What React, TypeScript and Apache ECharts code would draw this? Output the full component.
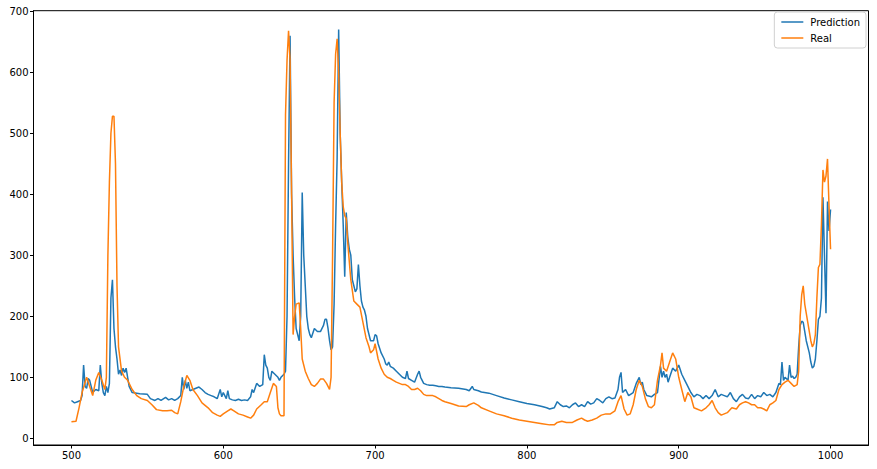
import React, { useEffect, useRef } from "react";
import * as echarts from "echarts";

const xTicks = [500, 600, 700, 800, 900, 1000];
const yTicks = [0, 100, 200, 300, 400, 500, 600, 700];

const predX = [500,502,504,506,507,508,509,510,511,512,514,516,518,519,520,521,522,523,524,525,526,527,528,529,530,531,532,533,534,535,536,537,538,540,545,550,552,555,557,559,562,564,566,568,570,572,573,574,575,576,577,578,580,582,584,586,588,590,592,594,596,598,599,600,602,603,604,606,608,610,612,614,616,618,619,620,622,624,626,627,628,629,630,631,632,634,636,637,638,640,641,642,643,644,645,646,647,648,649,650,651,652,653,654,655,656,657,658,660,662,664,666,667,668,669,670,671,672,673,674,675,676,677,678,679,680,681,682,683,684,685,686,687,688,689,690,691,692,693,694,695,697,699,700,701,702,704,706,707,708,709,710,712,714,716,718,720,721,722,724,726,728,729,730,732,734,736,738,740,742,744,746,750,755,760,762,764,765,768,770,775,780,785,790,795,800,805,810,813,815,818,820,822,824,826,828,830,832,834,836,838,840,842,844,846,848,850,852,854,856,858,860,861,862,863,865,867,870,872,873,874,875,876,877,879,882,884,886,888,889,890,891,892,893,894,896,898,900,902,904,906,908,910,912,914,916,918,920,922,924,926,928,930,932,934,936,938,940,942,944,946,948,950,952,954,956,958,960,962,964,966,967,968,969,970,972,973,974,975,976,977,978,979,980,981,982,984,986,987,988,989,990,991,992,993,994,995,996,997,998,999,1000];
const predY = [62,58,60,62,70,120,85,82,98,95,75,80,78,120,90,75,70,85,75,90,230,260,180,150,130,105,112,103,115,108,115,100,85,75,73,72,65,62,65,62,67,63,65,62,65,70,100,80,95,82,92,78,80,82,84,80,75,72,70,68,65,80,68,75,65,78,65,63,62,64,62,63,62,68,80,75,90,85,88,137,120,115,100,95,110,105,100,95,100,105,110,200,450,660,400,300,230,180,170,160,200,403,300,250,200,180,170,165,180,175,175,185,195,195,180,160,145,150,220,350,460,670,500,420,350,265,370,330,310,300,260,250,240,245,285,250,225,215,210,200,180,160,160,170,168,155,140,130,122,120,125,118,115,110,105,100,98,110,98,95,92,105,110,100,90,88,87,87,86,85,85,84,83,82,80,78,85,80,78,76,74,70,66,63,60,57,55,52,50,48,50,60,55,52,53,50,55,58,52,55,52,60,56,58,65,62,58,65,68,65,66,80,100,108,75,80,70,75,90,95,100,88,92,80,70,68,72,75,118,100,110,100,105,92,100,115,110,120,105,95,85,75,68,72,70,65,70,65,70,80,68,72,70,68,75,65,60,68,72,66,65,72,65,70,68,75,70,72,68,75,90,88,125,95,100,95,120,100,102,98,100,105,150,185,192,190,160,140,125,115,118,130,160,195,200,230,395,300,205,388,340,375];

const realX = [500,503,505,507,510,512,514,516,518,520,522,523,524,525,526,527,528,529,530,531,533,535,537,540,543,546,550,553,556,560,563,566,568,570,572,574,576,578,580,583,586,590,593,596,598,600,603,605,607,610,613,616,618,620,622,625,627,629,631,633,635,636,637,638,640,641,642,643,644,645,646,647,648,650,651,652,654,656,658,660,662,664,666,668,669,670,671,672,673,674,675,676,677,678,679,680,681,682,684,686,688,690,692,694,696,697,699,700,702,704,706,708,710,712,714,716,718,720,722,724,726,728,730,732,734,736,738,740,742,744,746,750,755,760,762,765,768,770,775,780,785,790,795,800,805,810,815,818,820,823,826,830,833,836,838,840,843,846,849,852,855,858,860,862,864,866,868,870,872,874,876,878,880,882,884,886,888,889,890,892,894,896,898,900,902,904,906,908,910,912,915,918,920,922,924,926,928,930,932,935,938,940,942,944,946,948,950,952,954,956,958,960,962,964,966,968,970,972,974,976,978,979,980,981,982,983,985,987,988,989,990,991,992,993,994,995,996,997,998,999,1000];
const realY = [27,28,50,75,100,85,70,95,108,95,80,100,300,420,500,528,528,450,250,150,110,100,95,80,70,65,62,55,47,45,45,46,42,40,60,85,103,95,80,70,58,50,42,38,36,40,45,48,45,40,38,35,33,38,48,55,60,60,75,90,85,50,40,37,37,530,620,668,620,400,170,200,220,222,180,130,110,98,88,85,90,97,97,90,85,80,100,300,550,630,655,600,500,420,380,365,360,320,260,225,220,215,190,165,150,140,145,155,130,115,105,100,98,95,92,90,88,88,85,80,80,82,78,72,70,70,70,68,65,62,60,57,53,52,55,58,54,50,45,40,37,33,30,28,26,24,22,22,26,28,26,26,30,33,30,28,30,33,38,40,40,45,60,70,48,38,40,55,80,95,85,65,52,50,55,95,120,140,115,110,125,140,130,100,80,60,75,68,50,48,45,50,55,62,50,42,38,40,42,50,48,55,58,60,58,55,55,50,50,48,45,55,58,62,80,88,92,95,90,85,88,110,200,235,250,220,190,160,150,155,170,230,280,285,350,440,420,430,458,380,310];

const zip = (xs: number[], ys: number[]) => xs.map((x, i) => [x, ys[i]]);

export default function App() {
  const ref = useRef<HTMLDivElement>(null);
  useEffect(() => {
    if (!ref.current) return;
    const chart = echarts.init(ref.current, null, { renderer: "svg" });
    const font = "DejaVu Sans";
    chart.setOption({
      animation: false,
      backgroundColor: "#fff",
      grid: {
        left: 33.5,
        right: 8.5,
        top: 10.7,
        bottom: 24,
        show: true,
        borderColor: "#000",
        borderWidth: 1,
        backgroundColor: "transparent",
      },
      legend: {
        orient: "vertical",
        right: 11,
        top: 12,
        icon: "rect",
        itemWidth: 22,
        itemHeight: 1.5,
        itemGap: 6,
        padding: [5, 6, 5, 7],
        borderColor: "#d0d0d0",
        borderWidth: 1,
        borderRadius: 3,
        backgroundColor: "#fff",
        textStyle: { fontFamily: font, fontSize: 10, color: "#000", padding: [0, 0, 0, 2] },
        data: ["Prediction", "Real"],
      },
      xAxis: {
        type: "value",
        min: 475,
        max: 1025,
        splitLine: { show: false },
        axisLine: { show: true, onZero: false, lineStyle: { color: "#000", width: 1 } },
        axisTick: { show: true, length: 3.5, customValues: xTicks, lineStyle: { color: "#000" } },
        axisLabel: {
          customValues: xTicks,
          fontFamily: font,
          fontSize: 10,
          color: "#000",
          margin: 5,
          formatter: (v: number) => String(v),
        },
      },
      yAxis: {
        type: "value",
        min: -11,
        max: 701,
        splitLine: { show: false },
        axisLine: { show: true, onZero: false, lineStyle: { color: "#000", width: 1 } },
        axisTick: { show: true, length: 3.5, customValues: yTicks, lineStyle: { color: "#000" } },
        axisLabel: {
          customValues: yTicks,
          fontFamily: font,
          fontSize: 10,
          color: "#000",
          margin: 5,
          formatter: (v: number) => String(v),
        },
      },
      series: [
        {
          name: "Prediction",
          type: "line",
          data: zip(predX, predY),
          symbol: "none",
          color: "#1f77b4",
          lineStyle: { width: 1.5, color: "#1f77b4" },
        },
        {
          name: "Real",
          type: "line",
          data: zip(realX, realY),
          symbol: "none",
          color: "#ff7f0e",
          lineStyle: { width: 1.5, color: "#ff7f0e" },
        },
      ],
    });
    return () => chart.dispose();
  }, []);
  return <div ref={ref} style={{ width: 877, height: 469, position: "absolute", left: 0, top: 0 }} />;
}
